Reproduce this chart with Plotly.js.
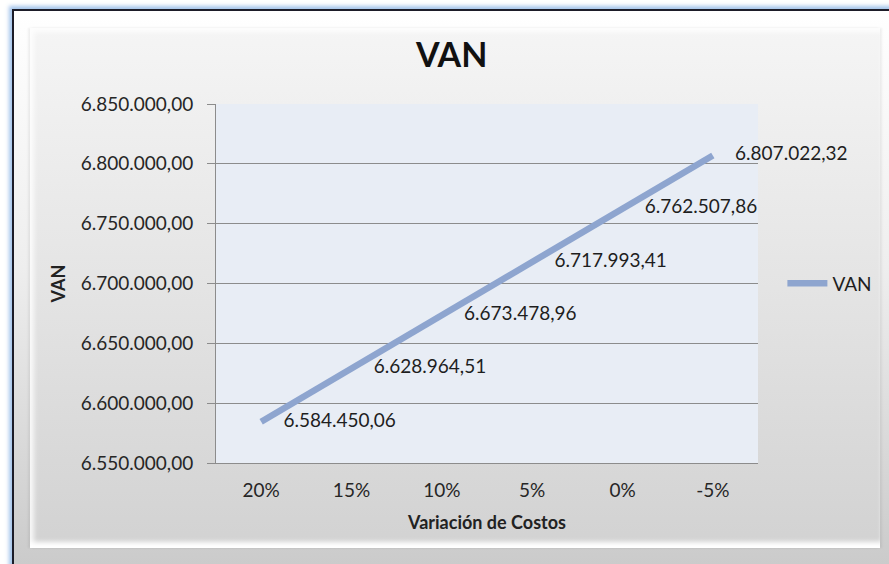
<!DOCTYPE html>
<html>
<head>
<meta charset="utf-8">
<script src="https://cdn.plot.ly/plotly-3.0.1.min.js"></script>
<style>
  html, body { margin: 0; padding: 0; background: #ffffff; width: 889px; height: 564px; overflow: hidden; }
  #frame { position: absolute; left: 12px; top: 9px; width: 890px; height: 570px;
           border-left: 2px solid #1c1c28; border-top: 2px solid #1c1c28;
           box-shadow: -3px -3px 4px rgba(140,180,230,0.8);
           background: linear-gradient(to bottom, #ffffff 0%, #eeeeee 45%, #c9c9c9 100%); }
  #panel { position: absolute; left: 30px; top: 28px; width: 850px; height: 520px;
           background: linear-gradient(to bottom, #f5f5f5 0%, #e4e4e4 50%, #d2d2d2 100%);
           box-shadow: inset 4px 4px 5px rgba(255,255,255,0.8), inset 0 -8px 5px -2px rgba(255,255,255,1), -2px 0 2px rgba(0,0,0,0.06), 2px 0 2px rgba(0,0,0,0.06); }
  #chart { position: absolute; left: 0; top: 0; width: 889px; height: 564px; }
</style>
</head>
<body>
<div id="frame"></div>
<div id="panel"></div>
<div id="chart"></div>
<script>
const categories = ['20%', '15%', '10%', '5%', '0%', '-5%'];
const vanValues = [6584450.06, 6628964.51, 6673478.96, 6717993.41, 6762507.86, 6807022.32];
const seriesName = 'VAN';

const trace = {
  x: categories,
  y: vanValues,
  type: 'scatter',
  mode: 'lines+markers+text',
  name: seriesName,
  line: { color: '#8ea5cf', width: 6.5 },
  marker: { size: 34, color: 'rgba(0,0,0,0)', line: { width: 0, color: 'rgba(0,0,0,0)' } },
  texttemplate: '%{y:,.2f}',
  textposition: 'middle right',
  textfont: { family: 'Lato, sans-serif', size: 19, color: '#1e1e1e' },
  cliponaxis: false
};

const layout = {
  width: 889, height: 564,
  separators: ',.',
  paper_bgcolor: 'rgba(0,0,0,0)',
  plot_bgcolor: '#e8edf5',
  margin: { l: 216, r: 129, t: 104, b: 101 },
  font: { family: 'Lato, sans-serif', color: '#222' },
  title: { text: '<b>VAN</b>', x: 0.508, xanchor: 'center', y: 0.902, yanchor: 'middle',
           font: { family: 'Lato, sans-serif', size: 34, color: '#111' } },
  xaxis: {
    type: 'category',
    range: [-0.5, 5.5],
    showgrid: false,
    showline: true, linecolor: '#8c8c8c', linewidth: 1,
    ticks: '', tickfont: { size: 19, color: '#262626' },
    ticklabelstandoff: 10,
    title: { text: '<b>Variación de Costos</b>', font: { size: 18, color: '#222' }, standoff: 16 },
    fixedrange: true
  },
  yaxis: {
    range: [6550000, 6850000],
    dtick: 50000,
    tickformat: ',.2f',
    showgrid: true, gridcolor: '#8c8c8c', gridwidth: 1,
    showline: true, linecolor: '#8c8c8c', linewidth: 1,
    ticks: 'outside', ticklen: 8, tickcolor: '#8c8c8c',
    tickfont: { size: 19, color: '#262626' },
    ticklabelstandoff: 10,
    title: { text: '<b>VAN</b>', font: { size: 18, color: '#222' }, standoff: 10 },
    zeroline: false,
    fixedrange: true
  },
  showlegend: true,
  legend: { x: 1.045, xanchor: 'left', y: 0.5, yanchor: 'middle', bgcolor: 'rgba(0,0,0,0)',
            font: { size: 19, color: '#1e1e1e' }, itemwidth: 40 }
};

Plotly.newPlot('chart', [trace], layout, { displayModeBar: false, staticPlot: true });
</script>
</body>
</html>
